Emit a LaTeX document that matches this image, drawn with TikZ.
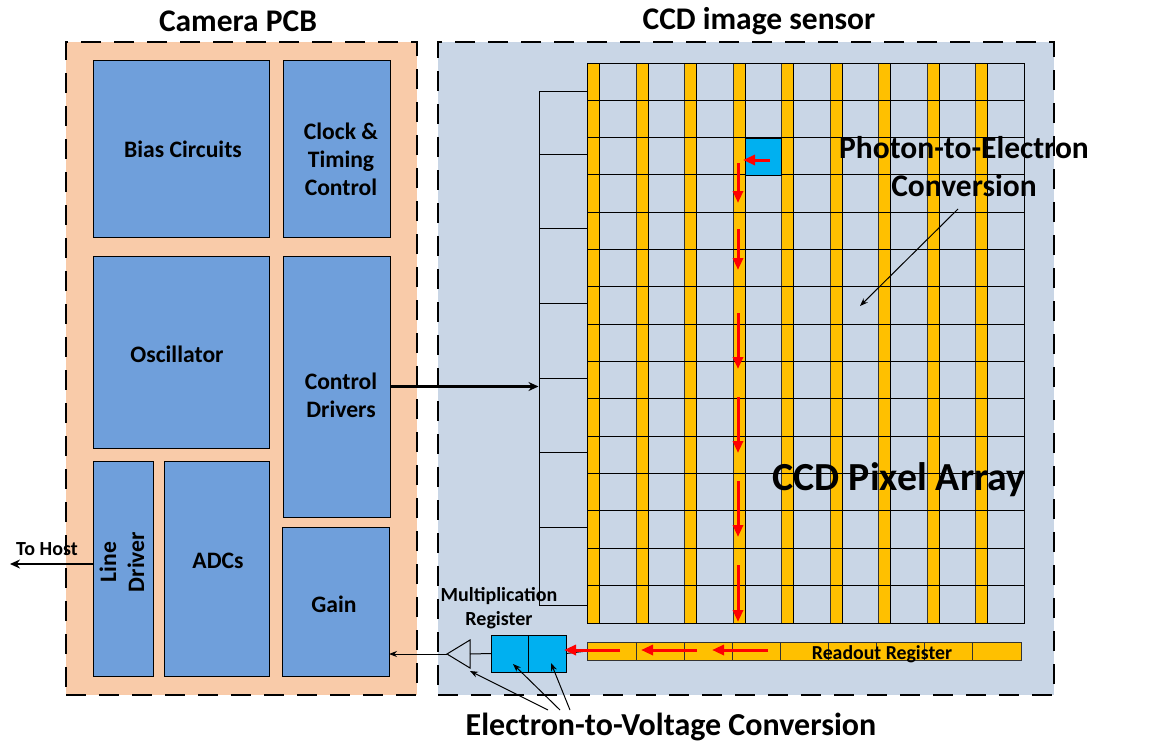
\documentclass[tikz,border=0pt]{standalone}
\usepackage{fontspec}
\setmainfont{Carlito}
\usetikzlibrary{arrows.meta}
\definecolor{peach}{HTML}{F9CBA9}
\definecolor{ccdbg}{HTML}{C9D6E6}
\definecolor{blockblue}{HTML}{6F9FDB}
\definecolor{gold}{HTML}{FFC000}
\definecolor{cyanb}{HTML}{00B0F0}
\tikzset{
  x=1pt,y=-1pt,
  panel/.style={draw=black,line width=1.3pt,dash pattern=on 20pt off 13pt,inner sep=0pt,outer sep=0pt},
  block/.style={draw=black,line width=.9pt,fill=blockblue,inner sep=0pt,outer sep=0pt},
  blocktext/.style={inner sep=0pt,align=center,font=\fontsize{23.6}{28}\selectfont\bfseries},
  stripe/.style={draw=black!80,line width=.9pt,fill=gold,inner sep=0pt,outer sep=0pt},
  cellb/.style={draw=black,line width=.9pt,fill=cyanb,inner sep=0pt,outer sep=0pt},
  wire/.style={draw=black,line width=1pt},
  thinarrow/.style={draw=black,line width=1pt,-{Stealth[length=8pt,width=6pt]}},
  boldarrow/.style={draw=black,line width=2.5pt,-{Stealth[length=10pt,width=9pt]}},
  redarrow/.style={draw=red,line width=3pt,-{Triangle[length=12pt,width=10pt]}},
  lbl/.style={inner sep=0pt,align=center,font=\bfseries},
}
\newcommand{\bx}[7][block]{%
  \pgfmathsetmacro{\cxx}{(#3+#5)/2}\pgfmathsetmacro{\cyy}{(#4+#6)/2}%
  \pgfmathsetmacro{\wdd}{#5-#3}\pgfmathsetmacro{\htt}{#6-#4}%
  \node[#1,minimum width=\wdd pt,minimum height=\htt pt] (#2) at (\cxx,\cyy) {#7};}
\begin{document}
\begin{tikzpicture}
\useasboundingbox (0,0) rectangle (1152,744);
\bx[panel,fill=peach]{pcb}{66}{42}{417}{695}{}
\bx[panel,fill=ccdbg]{ccd}{438}{42}{1054}{695}{}
\node[lbl,font=\fontsize{31.5}{36}\selectfont\bfseries] (pcbt) at (238,21) {Camera PCB};
\node[lbl,font=\fontsize{31.5}{36}\selectfont\bfseries] (ccdt) at (759,21) {CCD image sensor};
\bx{bias}{93}{60}{269}{237}{}
\bx{clock}{283}{60}{390}{237}{}
\bx{osc}{93}{256}{269}{448}{}
\bx{ctrl}{283}{256}{390}{517}{}
\bx{ld}{93}{461}{153}{676}{}
\bx{adc}{164}{461}{269}{676}{}
\bx{gain}{282}{527}{389}{676}{}
\node[blocktext] (biast) at (183,149) {Bias Circuits};
\node[blocktext] (clockt) at (341,159) {Clock \&\\Timing\\Control};
\node[blocktext] (osct) at (177,354) {Oscillator};
\node[blocktext] (ctrlt) at (341,395) {Control\\Drivers};
\node[blocktext,rotate=90] (ldt) at (122,562) {Line\\Driver};
\node[blocktext] (adct) at (218,561) {ADCs};
\node[blocktext] (gaint) at (334,604) {Gain};
% ladder
\bx[wire]{ladder}{539}{91}{587}{605}{}
\foreach \y [count=\i] in {154,228,303,378,452,527}{\draw[wire] (539,\y) -- (587,\y);}
% readout register
\bx[stripe]{readout}{587}{642}{1021}{660}{}
\foreach \x in {636,684,732,780,828,876,924,972}{\draw[stripe] (\x,642) -- (\x,660);}
% stripes
\foreach \x [count=\i] in {587,636,684,733,781,830,878,927,975}{
  \pgfmathsetmacro{\xe}{\x+12}
  \bx[stripe]{s\i}{\x}{63}{\xe}{623}{}
}
% pixel array grid
\bx[wire]{array}{587}{63}{1024}{623}{}
\foreach \i in {1,...,14}{\pgfmathsetmacro{\yy}{63+\i*37.33}\draw[wire] (587,\yy) -- (1024,\yy);}
\foreach \x in {599,648,696,745,793,842,890,939,987}{\draw[wire] (\x,63) -- (\x,623);}
\bx[cellb]{pix}{745}{138}{781}{175}{}
% multiplication register
\bx[cellb]{mra}{491}{635}{528}{672}{}
\bx[cellb]{mrb}{528}{635}{566}{672}{}
% amplifier
\coordinate (tip) at (447,654);
\coordinate (ampt) at (470,640);
\coordinate (ampb) at (470,668);
\coordinate (ampm) at (470,654);
\draw[wire,line join=miter] (tip) -- (ampt) -- (ampb) -- cycle;
\draw[wire] (ampm) -- (mra.west);
\draw[wire] (mrb.east) -- (readout.west);
% main arrows
\draw[boldarrow] (ctrl.east) -- (ctrl.east -| ladder.west);
\coordinate (host) at (10,564);
\draw[boldarrow] (host -| ld.west) -- (host);
\draw[thinarrow] (tip) -- (tip -| gain.east);
% red arrows
\foreach \a/\b in {163/203,229/270,313/369,397/453,481/537,565/622}{\draw[redarrow] (738,\a) -- (738,\b);}
\draw[redarrow] (770,160) -- (743,160);
\foreach \a/\b in {620/564,697/641,768/712}{\draw[redarrow] (\a,650) -- (\b,650);}
% labels
\node[lbl,font=\fontsize{20}{24}\selectfont\bfseries] (mrt) at (499,608) {Multiplication\\Register};
\node[lbl,font=\fontsize{19.8}{24}\selectfont\bfseries] (rrt) at (882,654) {Readout Register};
\node[lbl,font=\fontsize{39.8}{46}\selectfont\bfseries] (cpa) at (899,480) {CCD Pixel Array};
\node[lbl,font=\fontsize{31.5}{38}\selectfont\bfseries] (ph) at (964,167) {Photon-to-Electron\\Conversion};
\node[lbl,font=\fontsize{32}{38}\selectfont\bfseries] (ev) at (671,727) {Electron-to-Voltage Conversion};
\node[lbl,font=\fontsize{20}{24}\selectfont\bfseries] (ht) at (47,549) {To Host};
% callouts
\coordinate (pha) at (958,209);
\coordinate (phb) at (860,306);
\draw[thinarrow] (pha) -- (phb);
\coordinate (e1) at (548,710);
\coordinate (e2) at (560,710);
\coordinate (e3) at (570,710);
\draw[thinarrow] (e1) -- (ampb |- 0,671);
\draw[thinarrow] (e2) -- (513,664);
\draw[thinarrow] (e3) -- (551,663);
\end{tikzpicture}
\end{document}
